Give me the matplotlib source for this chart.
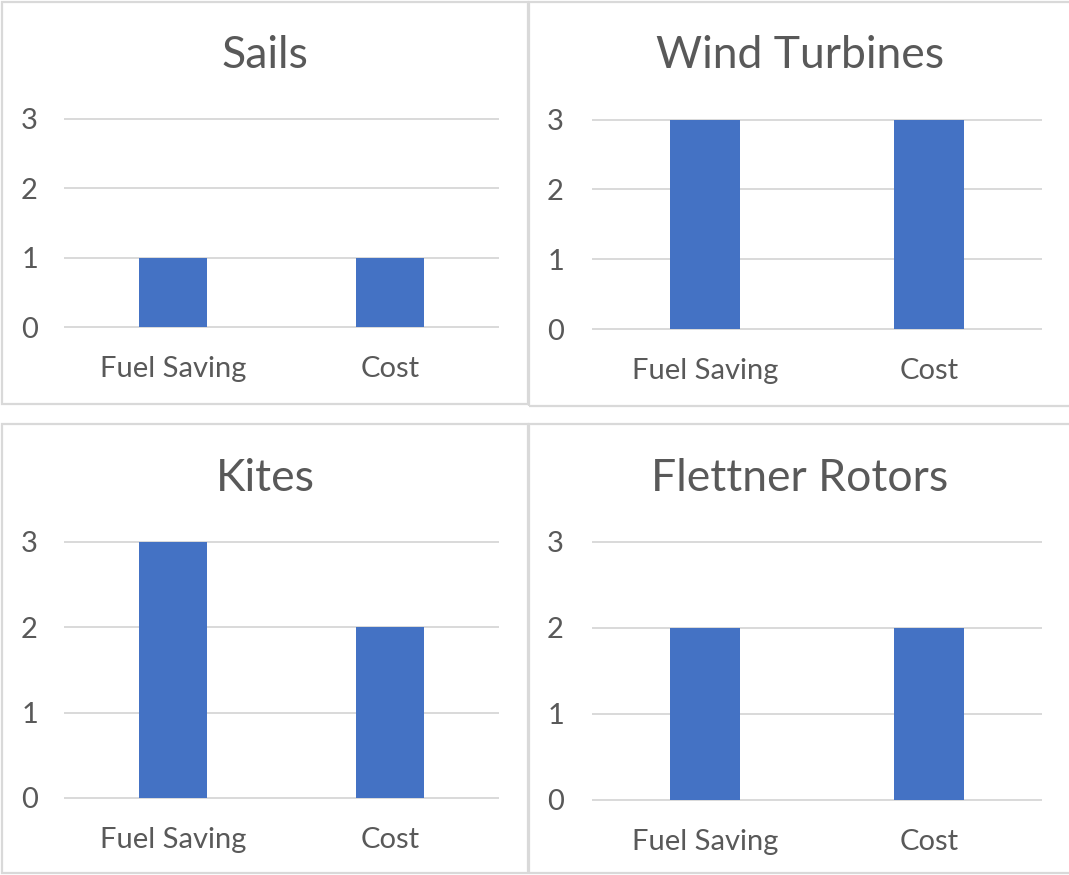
import matplotlib.pyplot as plt
from matplotlib.patches import Rectangle

# data
categories = ["Fuel Saving", "Cost"]
titles = ["Sails", "Wind Turbines", "Kites", "Flettner Rotors"]
sails = [1, 1]
wind_turbines = [3, 3]
kites = [3, 2]
flettner_rotors = [2, 2]
y_ticks = [0, 1, 2, 3]

W, H = 1069, 875
plt.rcParams['font.family'] = ['Lato', 'DejaVu Sans']
txt = '#595959'
grid = '#d9d9d9'
blue = '#4472C4'

fig = plt.figure(figsize=(W / 100, H / 100), dpi=100)


def px_rect(x0, y0, x1, y1):
    # pixel box (from top-left) -> figure fraction [l, b, w, h]
    return [x0 / W, 1 - y1 / H, (x1 - x0) / W, (y1 - y0) / H]


# panel frames
frames = [(2, 2, 528, 404), (529, 2, 1080, 406), (2, 424, 528, 873), (529, 424, 1080, 873)]
for x0, y0, x1, y1 in frames:
    l, b, w, h = px_rect(x0, y0, x1, y1)
    fig.patches.append(Rectangle((l, b), w, h, transform=fig.transFigure,
                                 fill=False, edgecolor=grid, lw=1.6))

# axes boxes, title centres, tick pads (px)
boxes = [(65, 119, 498, 327), (593, 119.5, 1041, 329), (65, 542, 498, 798), (593, 542, 1041, 800)]
title_pos = [(265, 56), (800, 56), (265, 479), (800, 479)]
ypad = [27, 29, 27, 29]
series = [sails, wind_turbines, kites, flettner_rotors]

for i in range(4):
    ax = fig.add_axes(px_rect(*boxes[i]))
    x = range(len(categories))
    ax.bar(x, series[i], width=0.315, color=blue, zorder=3)
    ax.set_xlim(-0.5, 1.5)
    ax.set_ylim(0, 3)
    ax.set_yticks(y_ticks)
    ax.set_xticks(list(x))
    ax.set_xticklabels(categories)
    for s in ax.spines.values():
        s.set_visible(False)
    for v in y_ticks:
        ax.axhline(v, color=grid, lw=1.4, zorder=1, clip_on=False)
    ax.tick_params(axis='y', length=0, pad=ypad[i] * 0.72, labelsize=21, labelcolor=txt)
    ax.tick_params(axis='x', length=0, pad=21, labelsize=21, labelcolor=txt)
    tx, ty = title_pos[i]
    fig.text(tx / W, 1 - ty / H, titles[i], ha='center', va='center',
             fontsize=32, color=txt)

fig.savefig('out.png', dpi=100)
